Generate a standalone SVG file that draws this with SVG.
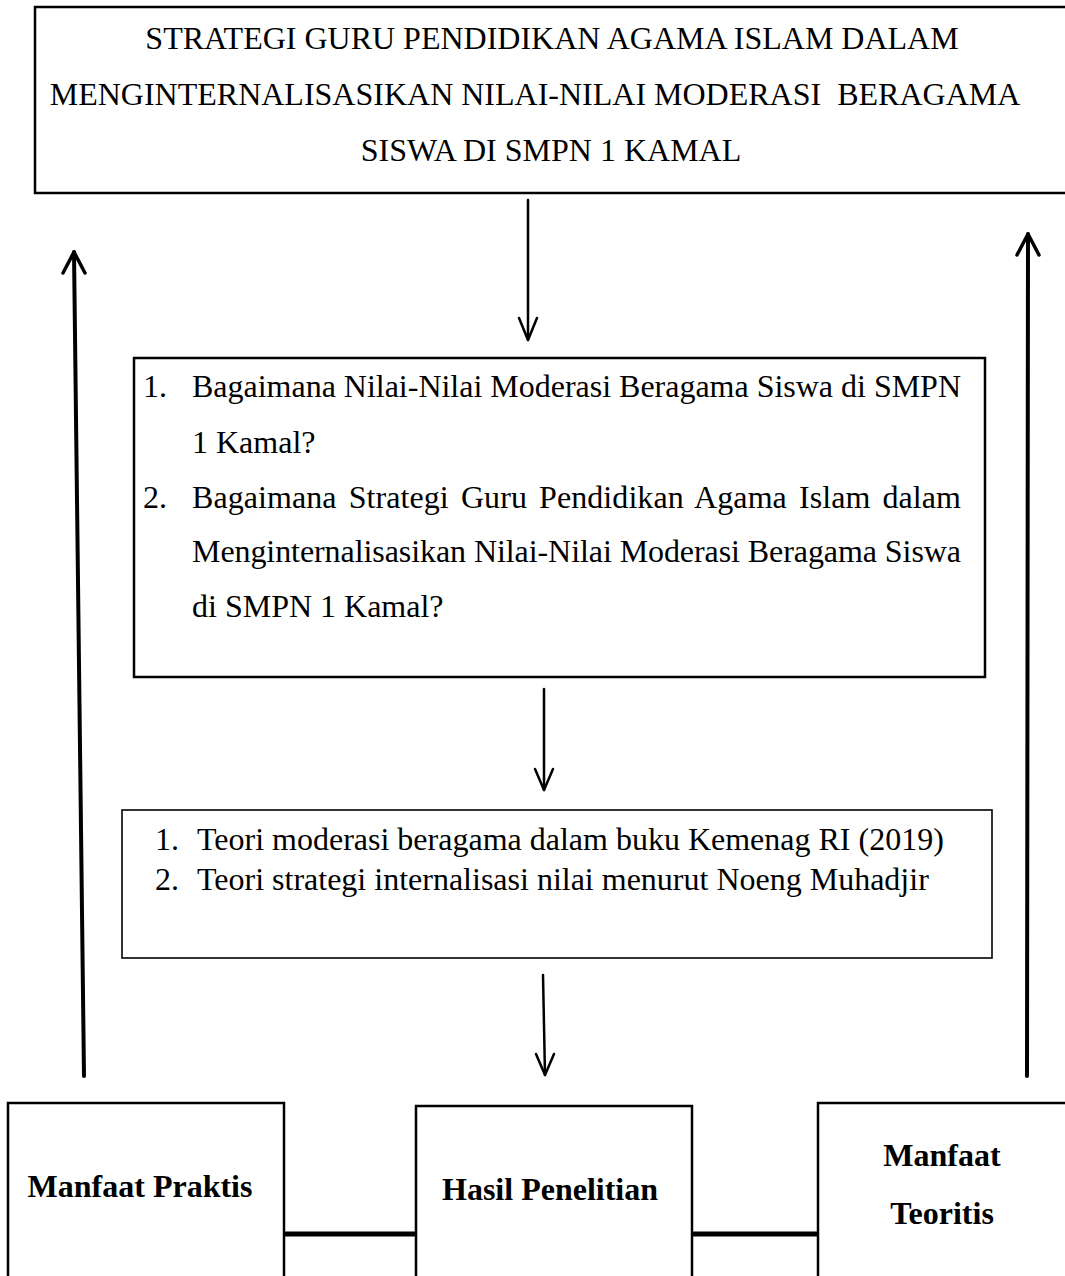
<svg xmlns="http://www.w3.org/2000/svg" width="1065" height="1276" viewBox="0 0 1065 1276">
<style>
.box{fill:#fff;stroke:#000;stroke-width:2.5}
.thin{fill:#fff;stroke:#000;stroke-width:1.6}
.t{font-family:"Liberation Serif","Times New Roman",serif;font-size:32px;fill:#000}
.b{font-family:"Liberation Serif","Times New Roman",serif;font-size:32px;font-weight:bold;fill:#000}
.c{fill:none;stroke:#000;stroke-linecap:round;stroke-linejoin:round}
</style>
<rect width="1065" height="1276" fill="#fff"/>
<g id="connectors">
<line class="c" x1="528" y1="200" x2="528" y2="340" stroke-width="2.5"/>
<polyline class="c" points="519,318 528,340 537,318" stroke-width="2.5"/>
<line class="c" x1="544" y1="689" x2="544" y2="790" stroke-width="2.5"/>
<polyline class="c" points="535,769 544,790 553,769" stroke-width="2.5"/>
<line class="c" x1="543" y1="975" x2="545" y2="1075" stroke-width="2.5"/>
<polyline class="c" points="536,1054 545,1075 554,1054" stroke-width="2.5"/>
<line class="c" x1="84" y1="1076" x2="74" y2="252" stroke-width="4" stroke-linecap="butt"/>
<polyline class="c" points="63,273 74,252 85,273" stroke-width="3.5"/>
<line class="c" x1="1027" y1="1076" x2="1028" y2="234" stroke-width="4" stroke-linecap="butt"/>
<polyline class="c" points="1017,255 1028,234 1039,255" stroke-width="3.5"/>
<line x1="284" y1="1234" x2="416" y2="1234" stroke="#000" stroke-width="5"/>
<line x1="692" y1="1234" x2="818" y2="1234" stroke="#000" stroke-width="5"/>
</g>
<g id="title">
<rect class="box" x="35" y="7" width="1040" height="186"/>
<text class="t" x="552" y="49" text-anchor="middle">STRATEGI GURU PENDIDIKAN AGAMA ISLAM DALAM</text>
<text class="t" x="535" y="105" text-anchor="middle" xml:space="preserve">MENGINTERNALISASIKAN NILAI-NILAI MODERASI  BERAGAMA</text>
<text class="t" x="551" y="161" text-anchor="middle">SISWA DI SMPN 1 KAMAL</text>
</g>
<g id="rumusan">
<rect class="box" x="134" y="358" width="851" height="319"/>
<text class="t" x="143" y="397">1.</text>
<text class="t" x="192" y="397" textLength="769" lengthAdjust="spacing">Bagaimana Nilai-Nilai Moderasi Beragama Siswa di SMPN</text>
<text class="t" x="192" y="453">1 Kamal?</text>
<text class="t" x="143" y="508">2.</text>
<text class="t" x="192" y="508" word-spacing="4" textLength="769" lengthAdjust="spacing">Bagaimana Strategi Guru Pendidikan Agama Islam dalam</text>
<text class="t" x="192" y="562" textLength="769" lengthAdjust="spacing">Menginternalisasikan Nilai-Nilai Moderasi Beragama Siswa</text>
<text class="t" x="192" y="617">di SMPN 1 Kamal?</text>
</g>
<g id="teori">
<rect class="thin" x="122" y="810" width="870" height="148"/>
<text class="t" x="155" y="850">1.</text>
<text class="t" x="197" y="850">Teori moderasi beragama dalam buku Kemenag RI (2019)</text>
<text class="t" x="155" y="890">2.</text>
<text class="t" x="197" y="890">Teori strategi internalisasi nilai menurut Noeng Muhadjir</text>
</g>
<g id="manfaat-praktis">
<rect class="box" x="8" y="1103" width="276" height="200"/>
<text class="b" x="140" y="1197" text-anchor="middle">Manfaat Praktis</text>
</g>
<g id="hasil-penelitian">
<rect class="box" x="416" y="1106" width="276" height="200"/>
<text class="b" x="550" y="1200" text-anchor="middle">Hasil Penelitian</text>
</g>
<g id="manfaat-teoritis">
<rect class="box" x="818" y="1103" width="276" height="200"/>
<text class="b" x="942" y="1166" text-anchor="middle">Manfaat</text>
<text class="b" x="942" y="1224" text-anchor="middle">Teoritis</text>
</g>
</svg>
